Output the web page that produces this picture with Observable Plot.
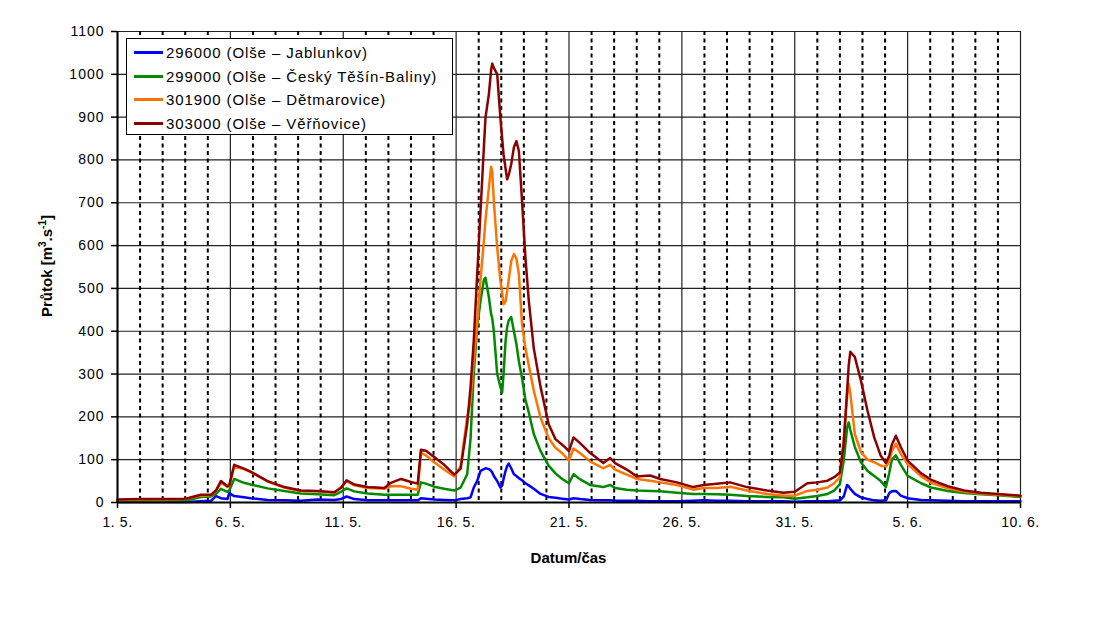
<!DOCTYPE html>
<html>
<head>
<meta charset="utf-8">
<script src="https://cdn.jsdelivr.net/npm/d3@7"></script>
<script src="https://cdn.jsdelivr.net/npm/@observablehq/plot@0.6"></script>
<style>
  body { margin: 0; background: #fff; font-family: "Liberation Sans", Arial, sans-serif; }
  #wrap { position: relative; width: 1106px; height: 622px; }
  #legend { position: absolute; left: 126px; top: 38px; width: 327px; height: 97px; box-sizing: border-box;
            border: 1px solid #000; background: #fff; padding-top: 2px; }
  .row { height: 23.5px; display: flex; align-items: center; font-size: 15px; letter-spacing: 0.9px; color: #000; white-space: nowrap; }
  .sw { width: 29px; height: 3px; margin-left: 7px; margin-right: 3px; }
  svg text { font-family: "Liberation Sans", Arial, sans-serif; }
</style>
</head>
<body>
<div id="wrap"><div id="chart"></div><div id="legend"></div></div>
<script>
// time in days since 1. 5. 00:00
const days = [0, 1, 2, 3, 3.1, 3.69, 4.14, 4.36, 4.58, 4.87, 4.95, 5.17, 5.6, 5.9, 6.65, 7.39, 8.12, 8.86, 9.6, 9.9,
  10.15, 10.49, 11.08, 11.82, 12.11, 12.56, 13.0, 13.3, 13.44, 13.66, 14.03, 14.47, 14.92, 15.2, 15.49, 15.64, 15.78, 15.93, 16.08, 16.23,
  16.3, 16.45, 16.55, 16.6, 16.67, 16.82, 16.96, 17.04, 17.1, 17.19, 17.26, 17.33, 17.44, 17.56, 17.67, 17.78, 17.92, 18.07, 18.22, 18.44,
  18.74, 19.1, 19.4, 19.7, 20.0, 20.2, 20.5, 20.93, 21.52, 21.82, 22.04, 22.56, 23.0, 23.6, 24.04, 24.78, 25.5, 25.96, 26.55, 27.14,
  27.88, 28.77, 29.5, 30.0, 30.56, 31.0, 31.45, 31.75, 32.0, 32.17, 32.32, 32.39, 32.46, 32.66, 32.93, 33.22, 33.52, 33.81, 34.04, 34.19,
  34.3, 34.48, 34.7, 35.0, 35.6, 36.04, 36.78, 37.5, 38.25, 39.0, 40.0];

const q303000 = [7, 8, 8, 9, 10, 18, 18, 28, 50, 38, 40, 88, 79, 72, 50, 36, 28, 27, 24, 34,
  52, 42, 36, 34, 46, 55, 48, 44, 123, 121, 106, 88, 65, 79, 183, 270, 377, 530, 680, 830,
  899, 953, 1010, 1025, 1015, 1000, 899, 850, 813, 780, 755, 765, 790, 830, 844, 821, 704, 572, 471, 360,
  270, 183, 148, 135, 120, 152, 138, 116, 92, 104, 92, 77, 61, 63, 55, 47, 36, 41, 44, 47,
  36, 28, 23, 25, 45, 47, 51, 59, 70, 137, 262, 320, 352, 340, 285, 215, 152, 109, 92, 110,
  135, 156, 129, 98, 68, 53, 38, 28, 23, 20, 16];

const q301900 = [6, 7, 7, 8, 9, 16, 17, 26, 47, 36, 38, 84, 78, 71, 49, 35, 26, 26, 23, 36,
  50, 40, 34, 32, 38, 38, 32, 30, 116, 110, 94, 77, 61, 85, 200, 237, 330, 416, 520, 611,
  660, 735, 784, 770, 704, 595, 518, 490, 463, 470, 494, 520, 564, 580, 570, 533, 416, 360, 320, 261,
  198, 150, 128, 115, 98, 126, 115, 96, 80, 88, 77, 65, 55, 51, 47, 41, 30, 34, 34, 37,
  28, 20, 16, 16, 27, 30, 35, 45, 59, 150, 250, 277, 255, 160, 118, 100, 94, 86, 84, 95,
  120, 137, 113, 90, 61, 46, 33, 25, 21, 18, 15];

const q299000 = [4, 4, 4, 5, 5, 13, 14, 20, 32, 25, 28, 55, 46, 42, 33, 27, 21, 19, 17, 25,
  33, 26, 21, 18, 18, 18, 18, 18, 47, 44, 37, 32, 28, 35, 66, 150, 300, 410, 471, 520,
  525, 480, 440, 430, 400, 300, 270, 257, 300, 377, 410, 425, 433, 400, 370, 330, 290, 240, 210, 160,
  120, 86, 68, 55, 45, 66, 54, 41, 36, 41, 34, 30, 28, 27, 26, 23, 20, 20, 19, 18,
  15, 13, 12, 9, 12, 15, 20, 28, 43, 98, 175, 187, 170, 130, 94, 74, 62, 50, 36, 70,
  100, 110, 88, 62, 45, 35, 27, 22, 19, 17, 13];

const q296000 = [1, 1, 1, 1, 1, 3, 4, 15, 10, 8, 22, 15, 12, 10, 6, 5, 4, 7, 6, 8,
  14, 8, 5, 5, 5, 5, 5, 5, 10, 9, 7, 6, 5, 8, 10, 12, 35, 50, 74, 78,
  80, 78, 74, 70, 62, 50, 35, 40, 55, 74, 85, 91, 80, 66, 62, 57, 52, 45, 40, 32,
  20, 13, 11, 9, 7, 10, 8, 6, 5, 5, 4, 4, 4, 3, 3, 3, 4, 5, 4, 4,
  3, 3, 3, 2, 3, 3, 3, 4, 5, 14, 41, 38, 32, 20, 12, 8, 5, 4, 5, 22,
  26, 27, 16, 10, 6, 5, 4, 3, 3, 3, 3];

const seriesCodes = ["296000", "299000", "301900", "303000"];
const seriesNames = ["296000 (Olše – Jablunkov)", "299000 (Olše – Český Těšín-Baliny)", "301900 (Olše – Dětmarovice)", "303000 (Olše – Věřňovice)"];
const seriesColors = ["#0000ff", "#008a00", "#ff7400", "#8b0000"];
const seriesValues = [q296000, q299000, q301900, q303000];

const xTickDays = [0, 5, 10, 15, 20, 25, 30, 35, 40];
const xTickLabels = ["1. 5.", "6. 5.", "11. 5.", "16. 5.", "21. 5.", "26. 5.", "31. 5.", "5. 6.", "10. 6."];
const yTicks = [0, 100, 200, 300, 400, 500, 600, 700, 800, 900, 1000, 1100];

const data = seriesCodes.flatMap((c, k) => days.map((d, i) => ({t: d, v: seriesValues[k][i], s: c})));
const minorDays = d3.range(1, 40).filter(d => d % 5 !== 0);

const chart = Plot.plot({
  width: 1106, height: 622,
  marginLeft: 117, marginRight: 86, marginTop: 31, marginBottom: 120,
  style: {fontSize: "14px", fontFamily: "Liberation Sans, Arial, sans-serif", color: "#000", background: "#fff"},
  x: {domain: [0, 40]},
  y: {domain: [0, 1100]},
  color: {domain: seriesCodes, range: seriesColors},
  marks: [
    Plot.ruleY(yTicks, {stroke: "#222", strokeWidth: 1.2}),
    Plot.ruleX(minorDays, {stroke: "#000", strokeWidth: 2, strokeDasharray: "4,3.5"}),
    Plot.ruleX(xTickDays, {stroke: "#222", strokeWidth: 1.2}),
    Plot.line(data, {x: "t", y: "v", z: "s", stroke: "s", strokeWidth: 2.5, curve: "linear"}),
    Plot.ruleY([0], {stroke: "#000", strokeWidth: 2}),
    Plot.ruleX([0], {stroke: "#000", strokeWidth: 2}),
    Plot.axisX({ticks: xTickDays, tickFormat: d => xTickLabels[xTickDays.indexOf(d)], tickSize: 6, tickPadding: 9, label: null, stroke: "#000", strokeWidth: 1.5}),
    Plot.axisY({ticks: yTicks, tickFormat: d => String(d), tickSize: 6, tickPadding: 7, label: null, stroke: "#000", strokeWidth: 1.5})
  ]
});
document.getElementById("chart").appendChild(chart);

const svg = d3.select(chart);
svg.selectAll('g[aria-label="x-axis tick label"] text').style("letter-spacing", "0.6px");
svg.selectAll('g[aria-label="y-axis tick label"] text').style("letter-spacing", "1px");

// axis titles
svg.append("text")
  .attr("x", 568.5).attr("y", 563)
  .attr("text-anchor", "middle")
  .attr("font-size", 15).attr("font-weight", "bold")
  .text("Datum/čas");

const yl = svg.append("text")
  .attr("transform", "translate(52,266) rotate(-90)")
  .attr("text-anchor", "middle")
  .attr("font-size", 15).attr("font-weight", "bold");
yl.append("tspan").text("Průtok [m");
yl.append("tspan").attr("font-size", 10).attr("dy", -6).text("3");
yl.append("tspan").attr("dy", 6).text(".s");
yl.append("tspan").attr("font-size", 10).attr("dy", -6).text("-1");
yl.append("tspan").attr("dy", 6).text("]");

// legend
const legend = d3.select("#legend");
seriesNames.forEach((n, k) => {
  const row = legend.append("div").attr("class", "row");
  row.append("div").attr("class", "sw").style("background", seriesColors[k]);
  row.append("span").text(n);
});
</script>
</body>
</html>
